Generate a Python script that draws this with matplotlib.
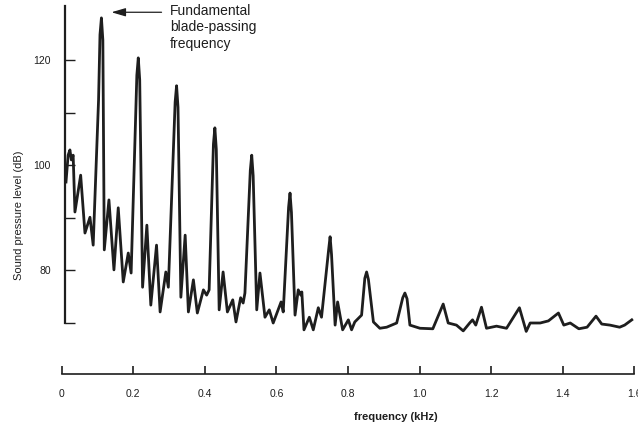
import matplotlib
matplotlib.use("Agg")
import matplotlib.pyplot as plt

# spectrum: frequency (kHz) and level (dB)
freq = [0.012, 0.018, 0.023, 0.027, 0.032, 0.037, 0.053, 0.065, 0.079, 0.088,
        0.103, 0.107, 0.111, 0.115, 0.119, 0.132, 0.146, 0.158, 0.172, 0.186,
        0.194, 0.210, 0.214, 0.218, 0.226, 0.238, 0.249, 0.265, 0.275, 0.291,
        0.298, 0.317, 0.321, 0.325, 0.333, 0.345, 0.354, 0.368, 0.379, 0.396,
        0.405, 0.412, 0.424, 0.428, 0.432, 0.440, 0.451, 0.463, 0.478, 0.487,
        0.500, 0.507, 0.512, 0.527, 0.531, 0.535, 0.545, 0.554, 0.568, 0.580,
        0.591, 0.613, 0.619, 0.634, 0.638, 0.642, 0.652, 0.661, 0.668, 0.671,
        0.677, 0.692, 0.703, 0.717, 0.726, 0.746, 0.750, 0.754, 0.764, 0.771,
        0.785, 0.801, 0.810, 0.819, 0.838, 0.847, 0.852, 0.857, 0.871, 0.889,
        0.908, 0.922, 0.936, 0.953, 0.959, 0.965, 0.973, 1.001, 1.037, 1.066,
        1.080, 1.103, 1.122, 1.140, 1.148, 1.157, 1.173, 1.187, 1.215, 1.243,
        1.279, 1.298, 1.309, 1.337, 1.360, 1.388, 1.403, 1.421, 1.445, 1.468,
        1.493, 1.509, 1.532, 1.559, 1.573, 1.593]
level = [96.8, 101.9, 102.9, 101.0, 101.9, 91.1, 98.1, 87.1, 90.1, 84.8,
         112.4, 124.8, 128.0, 123.8, 83.9, 93.4, 80.1, 91.9, 77.8, 83.3,
         79.5, 117.1, 120.4, 116.2, 76.8, 88.6, 73.4, 84.8, 72.1, 79.7,
         76.8, 112.0, 115.1, 111.0, 74.9, 86.7, 72.1, 78.2, 71.9, 76.3,
         75.3, 76.3, 104.0, 107.1, 103.0, 72.5, 79.7, 72.1, 74.4, 70.2,
         74.8, 73.8, 75.7, 99.0, 101.9, 98.0, 72.5, 79.5, 71.1, 72.5,
         70.0, 74.0, 72.1, 92.0, 94.7, 91.0, 71.5, 76.3, 75.3, 75.9,
         68.7, 71.1, 68.7, 72.9, 71.1, 84.0, 86.4, 83.0, 69.6, 74.0,
         68.7, 70.6, 68.7, 70.2, 71.5, 78.5, 79.7, 78.3, 70.2, 69.0,
         69.2, 69.6, 70.0, 74.8, 75.7, 74.6, 69.6, 69.0, 68.9, 73.6,
         70.0, 69.6, 68.5, 70.0, 70.6, 69.6, 73.0, 69.0, 69.4, 69.0,
         72.9, 68.4, 70.0, 70.0, 70.4, 71.9, 69.6, 70.0, 68.9, 69.2,
         71.3, 69.8, 69.6, 69.2, 69.6, 70.6]

yticks_major = [80, 100, 120]
yticks_minor = [70, 90, 110]
xticks = [0, 0.2, 0.4, 0.6, 0.8, 1.0, 1.2, 1.4, 1.6]
xticklabels = ["0", "0.2", "0.4", "0.6", "0.8", "1.0", "1.2", "1.4", "1.6"]

plt.rcParams['font.family'] = ['Liberation Sans', 'DejaVu Sans']
ink = '#1e1e1e'

fig = plt.figure(figsize=(6.38, 4.30), dpi=100)
ax = fig.add_axes([0.0967, 0.1265, 0.8975, 0.8686])

ax.plot(freq, level, color=ink, lw=2.0, solid_joinstyle='round')

ax.set_xlim(0, 1.6)
ax.set_ylim(60, 131)

for s in ['top', 'right']:
    ax.spines[s].set_visible(False)
ax.spines['left'].set_position(('data', 0.009))
ax.spines['left'].set_bounds(70, 130.3)
ax.spines['bottom'].set_position(('data', 60.3))
ax.spines['bottom'].set_bounds(0, 1.6)
ax.spines['left'].set_linewidth(1.6)
ax.spines['bottom'].set_linewidth(1.2)
ax.spines['left'].set_color(ink)
ax.spines['bottom'].set_color(ink)

ax.set_yticks(yticks_major)
ax.set_yticks(yticks_minor, minor=True)
ax.tick_params(axis='y', which='both', direction='in', length=7, width=1,
               color=ink, labelsize=7.5, pad=10, labelcolor=ink)
ax.set_xticks(xticks)
ax.set_xticklabels(xticklabels)
ax.tick_params(axis='x', direction='in', length=6, width=1.2, color=ink,
               labelsize=7.5, pad=11, labelcolor=ink)

ax.set_ylabel("Sound pressure level (dB)", fontsize=8, color=ink)
ax.yaxis.set_label_coords(-0.066, 0.43)
ax.set_xlabel("frequency (kHz)", fontsize=8, color=ink, fontweight='bold')
ax.xaxis.set_label_coords(0.584, -0.097)

# arrow pointing at the fundamental
ax.annotate("", xy=(0.139, 129.07), xytext=(0.279, 129.07),
            arrowprops=dict(arrowstyle='-|>,head_length=0.85,head_width=0.25',
                            color=ink, lw=0.9, mutation_scale=10,
                            shrinkA=0, shrinkB=0))
ax.text(0.303, 130.6, "Fundamental\nblade-passing\nfrequency", fontsize=10,
        color=ink, va='top', ha='left')

fig.savefig("out.png", dpi=100)
